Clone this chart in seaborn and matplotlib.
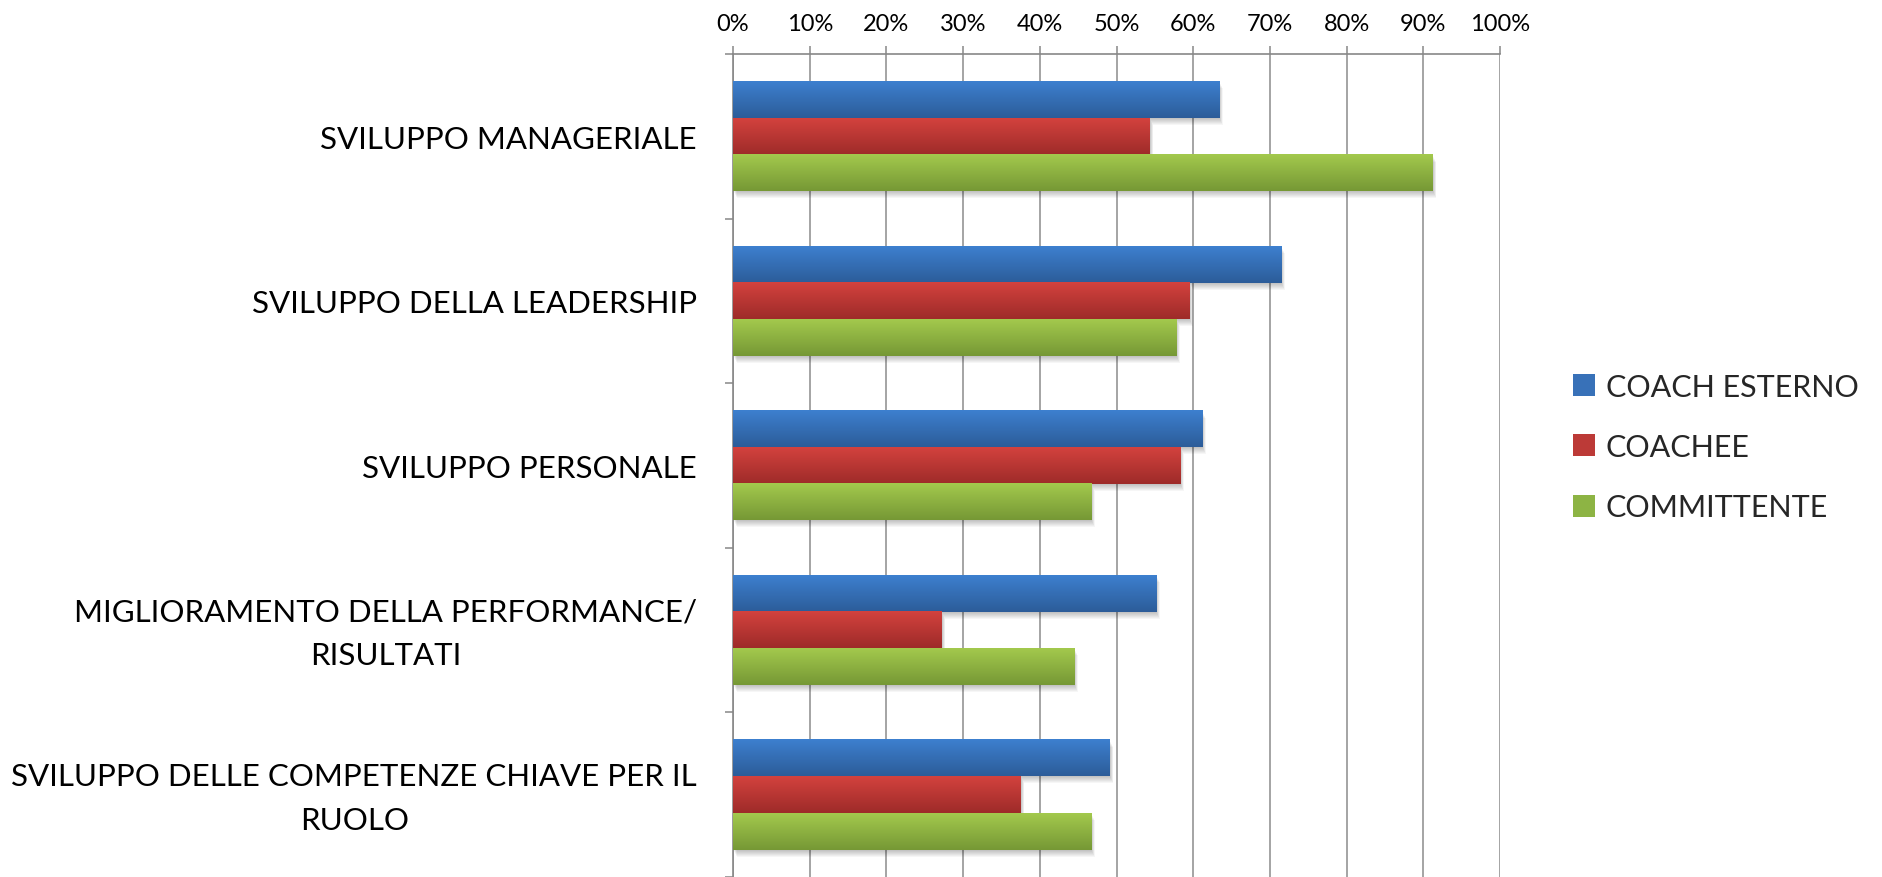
import numpy as np
import pandas as pd
import matplotlib
matplotlib.use("Agg")
import matplotlib.pyplot as plt
import matplotlib.transforms as mtransforms
from matplotlib.patches import Rectangle, Patch
from matplotlib.ticker import PercentFormatter
import matplotlib.colors as mcolors
import seaborn as sns

# ---------------- data ----------------
categories = [
    "SVILUPPO MANAGERIALE",
    "SVILUPPO DELLA LEADERSHIP",
    "SVILUPPO PERSONALE",
    "MIGLIORAMENTO DELLA PERFORMANCE/\nRISULTATI",
    "SVILUPPO DELLE COMPETENZE CHIAVE PER IL\nRUOLO",
]
series_names = ["COACH ESTERNO", "COACHEE", "COMMITTENTE"]
coach_esterno = [63.4, 71.5, 61.2, 55.2, 49.1]
coachee = [54.3, 59.5, 58.3, 27.2, 37.5]
committente = [91.2, 57.8, 46.7, 44.5, 46.7]
x_ticks = [0, 10, 20, 30, 40, 50, 60, 70, 80, 90, 100]

# gradient colours (top, bottom) and base colour per series
grad_top = ["#3D80CF", "#D3423E", "#A3C94D"]
grad_bot = ["#2C5C99", "#9E2B29", "#769835"]
base_col = ["#3871B8", "#BC3A37", "#8DB444"]

df = pd.DataFrame({
    "category": categories * 3,
    "series": [s for s in series_names for _ in categories],
    "value": coach_esterno + coachee + committente,
})

# ---------------- style ----------------
sns.set_style("white")
plt.rcParams["font.family"] = ["Lato", "DejaVu Sans"]

fig = plt.figure(figsize=(18.83, 8.78), dpi=100)
ax = fig.add_axes([0.3893, 0.0, 0.7966 - 0.3893, 0.9374])

sns.barplot(data=df, y="category", x="value", hue="series", orient="h",
            order=categories, hue_order=series_names,
            palette=dict(zip(series_names, base_col)), saturation=1,
            width=3 / 4.5, errorbar=None, ax=ax, legend=False,
            zorder=3)

# ---------------- gradient bars + soft shadow ----------------
px = 1.0 / fig.dpi
for idx, cont in enumerate(ax.containers):
    for p in cont:
        x0, y0, w, h = p.get_x(), p.get_y(), p.get_width(), p.get_height()
        # shadow
        for i in range(1, 8):
            tr = ax.transData + mtransforms.ScaledTranslation(i * 0.5 * px, -i * 1.0 * px,
                                                              fig.dpi_scale_trans)
            ax.add_patch(Rectangle((x0, y0), w, h, transform=tr, facecolor="black",
                                   edgecolor="none", alpha=0.035, zorder=2))
        top = np.array(mcolors.to_rgb(grad_top[idx]))
        bot = np.array(mcolors.to_rgb(grad_bot[idx]))
        t = np.linspace(0, 1, 64)[:, None]
        grad = (top * (1 - t) + bot * t)[:, None, :]
        ax.imshow(grad, extent=[x0, x0 + w, y0 + h, y0], origin="upper",
                  aspect="auto", interpolation="bilinear", zorder=3)
        p.set_facecolor("none")
        p.set_edgecolor("none")

# ---------------- axes ----------------
ax.set_xlim(0, 100)
ax.set_ylim(len(categories) - 0.5, -0.5)
ax.set_xlabel("")
ax.set_ylabel("")

grey = "#878787"
for s in ["right", "bottom"]:
    ax.spines[s].set_visible(False)
for s in ["top", "left"]:
    ax.spines[s].set_color(grey)
    ax.spines[s].set_linewidth(1.2)

ax.set_axisbelow(True)
ax.xaxis.grid(True, color="#8C8C8C", linewidth=1.1, zorder=0)
ax.yaxis.grid(False)

ax.set_xticks(x_ticks)
ax.xaxis.set_major_formatter(PercentFormatter(100, decimals=0))
ax.xaxis.tick_top()
ax.tick_params(axis="x", which="major", top=True, bottom=False, labeltop=True,
               labelbottom=False, direction="out", length=6, width=1.1,
               color=grey, labelsize=17, pad=8.5, labelcolor="black")

ax.set_yticks(range(len(categories)))
ax.set_yticklabels(categories)
ax.set_yticks([i - 0.5 for i in range(len(categories) + 1)], minor=True)
ax.tick_params(axis="y", which="major", left=True, length=0, pad=26,
               labelsize=22.5, labelcolor="black")
ax.tick_params(axis="y", which="minor", left=True, length=6, width=1.1,
               color=grey, direction="out")
shift_up = mtransforms.ScaledTranslation(0, 7 / 100, fig.dpi_scale_trans)
for lbl in ax.get_yticklabels():
    lbl.set_multialignment("center")
    lbl.set_linespacing(1.68)
    if "\n" in lbl.get_text():
        lbl.set_transform(lbl.get_transform() + shift_up)

# ---------------- legend ----------------
handles = [Patch(facecolor=c, edgecolor="none") for c in base_col]
fig.legend(handles, series_names, loc="center left",
           bbox_to_anchor=(1573 / 1883, 1 - 448 / 878),
           frameon=False, fontsize=22, handlelength=0.72, handleheight=0.72,
           handletextpad=0.35, labelspacing=1.06, borderpad=0, borderaxespad=0)

fig.savefig("out.png", dpi=100)
